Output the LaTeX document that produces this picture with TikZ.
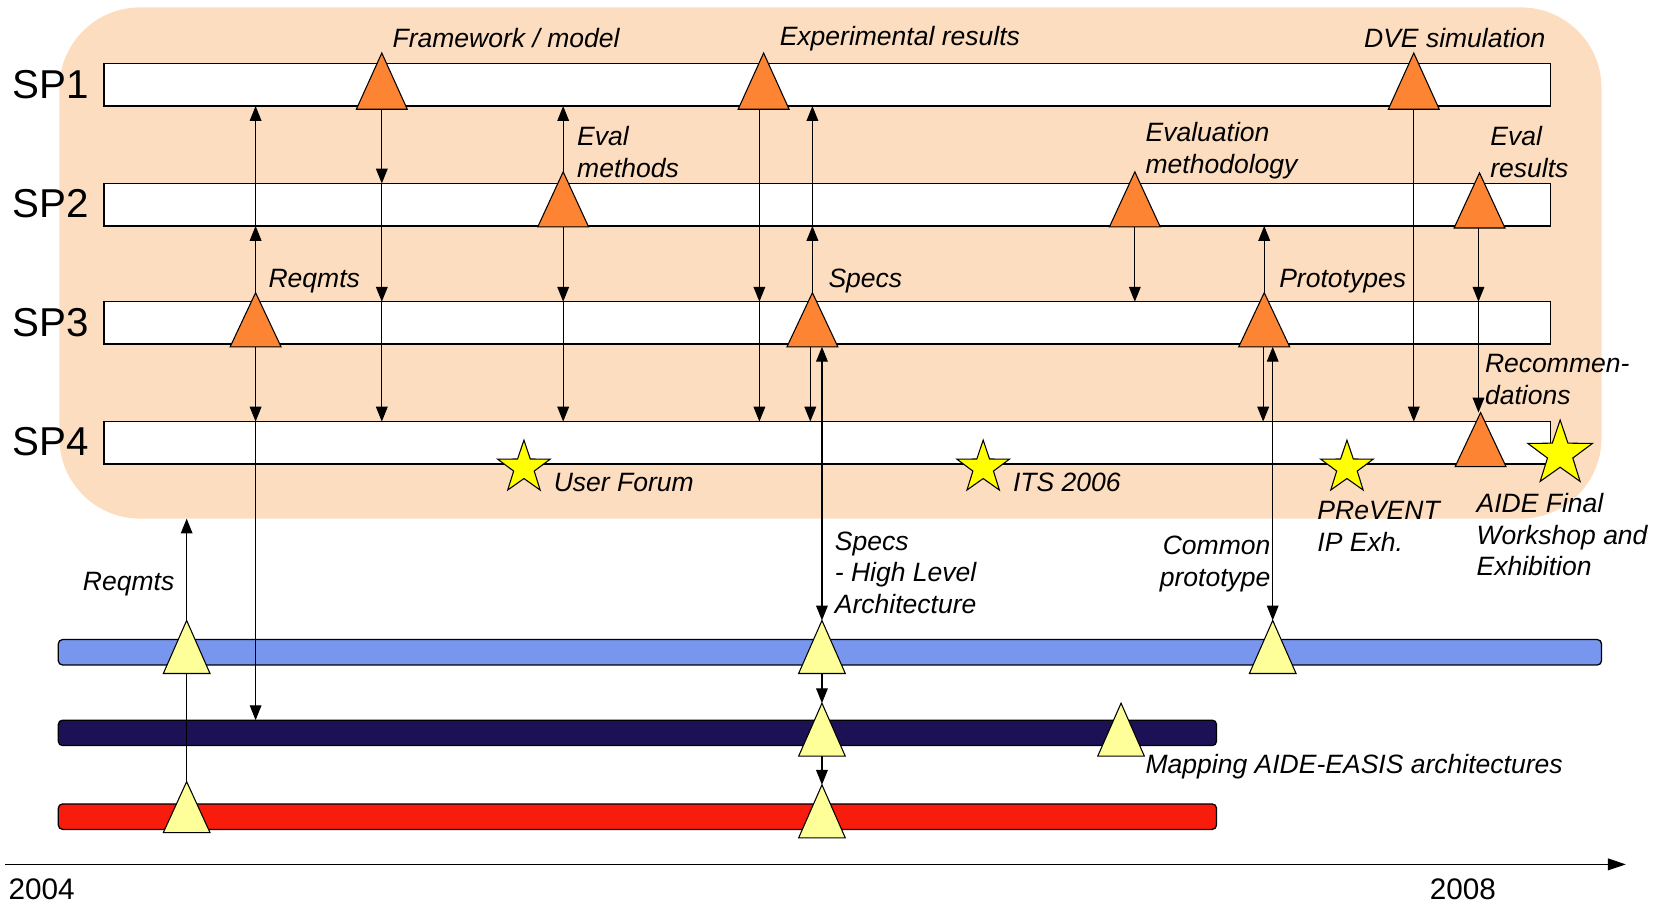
\documentclass[tikz,border=0pt]{standalone}
\usepackage{fontspec}
\setmainfont{Liberation Sans}
\usetikzlibrary{arrows.meta,shapes.geometric}
\definecolor{peach}{RGB}{253,221,192}
\definecolor{orangetri}{RGB}{253,132,50}
\definecolor{lightyel}{RGB}{255,255,153}
\definecolor{staryel}{RGB}{255,255,0}
\definecolor{barblue}{RGB}{120,150,238}
\definecolor{barnavy}{RGB}{28,17,84}
\definecolor{barred}{RGB}{247,28,12}
\newcommand\deftri[4]{\coordinate (#1-t) at (#2,#3);\coordinate (#1-b) at (#2,#4);}
\newcommand\drawtri[3]{\draw[tri,fill=#3] ([xshift=-#2pt]#1-b) -- (#1-t) -- ([xshift=#2pt]#1-b) -- cycle;}
\begin{document}
\begin{tikzpicture}[x=1pt,y=-1pt,
  spbar/.style={draw=black, line width=1.3pt, fill=white, minimum width=1364pt, minimum height=40pt, inner sep=0pt, outer sep=0pt},
  cbar/.style={draw=black, line width=1.2pt, rounded corners=4pt, minimum height=24pt, inner sep=0pt, outer sep=0pt},
  lab/.style={font=\fontsize{25}{30}\selectfont\itshape, inner sep=0pt, align=left},
  splab/.style={font=\fontsize{38}{44}\selectfont, inner sep=0pt, anchor=west},
  yearlab/.style={font=\fontsize{28}{32}\selectfont, inner sep=0pt, anchor=west},
  arr/.style={line width=1.1pt, -{Triangle[length=14pt,width=11pt]}},
  darr/.style={line width=1.1pt, {Triangle[length=14pt,width=11pt]}-{Triangle[length=14pt,width=11pt]}},
  tri/.style={draw=black, line width=1pt, line join=miter},
  ystar/.style={star, star points=5, star point ratio=2.55, draw=black, line width=1pt, fill=staryel, inner sep=0pt, minimum size=52pt}
]
\useasboundingbox (0,0) rectangle (1568,853);
% background
\node[fill=peach, rounded corners=76pt, minimum width=1454pt, minimum height=482pt, inner sep=0pt, outer sep=0pt] (bg) at (783,248) {};
% SP bars
\node[spbar] (sp1) at (780,80) {};
\node[spbar] (sp2) at (780,193) {};
\node[spbar] (sp3) at (780,304.5) {};
\node[spbar] (sp4) at (780,417.5) {};
\node[splab] (l1) at (12,80) {SP1};
\node[splab] (l2) at (12,192) {SP2};
\node[splab] (l3) at (12,304) {SP3};
\node[splab] (l4) at (12,416) {SP4};
% coloured bars
\node[cbar, fill=barblue, minimum width=1455pt] (blue) at (782.5,615) {};
\node[cbar, fill=barnavy, minimum width=1092pt] (navy) at (601,691) {};
\node[cbar, fill=barred, minimum width=1092pt] (red) at (601,770) {};
% triangle coordinates
\deftri{ofw}{360}{50}{103}
\deftri{oex}{720}{50}{103}
\deftri{odve}{1333}{50}{103}
\deftri{oem}{531}{162}{214}
\deftri{oevm}{1070}{162}{214}
\deftri{oer}{1395}{163}{215}
\deftri{oreq}{241}{276}{327}
\deftri{osp}{766}{276}{327}
\deftri{opr}{1192}{276}{327}
\deftri{orec}{1396}{389}{440}
\deftri{yba}{176}{585}{635}
\deftri{ybb}{775}{585}{635}
\deftri{ybc}{1200}{585}{635}
\deftri{yna}{775}{663}{713}
\deftri{ynb}{1057}{663}{713}
\deftri{yra}{176}{737}{785}
\deftri{yrb}{775}{740}{790}
% connectors
\draw[arr] (oreq-t) -- (oreq-t |- sp2.south);
\draw[arr] (oreq-t |- sp2.south) -- (oreq-t |- sp1.south);
\draw[arr] (oreq-b) -- (oreq-b |- sp4.north);
\draw[arr] (oreq-b |- sp4.north) -- (oreq-b |- navy.north);
\draw[arr] (ofw-b) -- (ofw-b |- sp2.north);
\draw[arr] (ofw-b |- sp2.north) -- (ofw-b |- sp3.north);
\draw[arr] (ofw-b |- sp3.north) -- (ofw-b |- sp4.north);
\draw[arr] (oem-t) -- (oem-t |- sp1.south);
\draw[arr] (oem-b) -- (oem-b |- sp3.north);
\draw[arr] (oem-b |- sp3.north) -- (oem-b |- sp4.north);
\draw[arr] ([xshift=-4pt]oex-b) -- ([xshift=-4pt]oex-b |- sp3.north);
\draw[arr] ([xshift=-4pt]oex-b |- sp3.north) -- ([xshift=-4pt]oex-b |- sp4.north);
\draw[arr] (osp-t) -- (osp-t |- sp2.south);
\draw[arr] (osp-t |- sp2.south) -- (osp-t |- sp1.south);
\draw[arr] ([xshift=-2pt]osp-b) -- ([xshift=-2pt]osp-b |- sp4.north);
\draw[darr] ([xshift=9pt]osp-b) -- (ybb-t);
\draw[arr] (ybb-b) -- (yna-t);
\draw[arr] (yna-b) -- (yrb-t);
\draw[arr] (oevm-b) -- (oevm-b |- sp3.north);
\draw[arr] (opr-t) -- (opr-t |- sp2.south);
\draw[arr] ([xshift=-1pt]opr-b) -- ([xshift=-1pt]opr-b |- sp4.north);
\draw[darr] ([xshift=8pt]opr-b) -- (ybc-t);
\draw[arr] (odve-b) -- (odve-b |- sp4.north);
\draw[arr] ([xshift=-1pt]oer-b) -- ([xshift=-1pt]oer-b |- sp3.north);
\draw[arr] ([xshift=-1pt]oer-b |- sp3.north) -- ([xshift=-2pt]orec-t);
\draw[arr] (yra-t) -- (yra-t |- bg.south);
% triangles
\drawtri{ofw}{24}{orangetri}
\drawtri{oex}{24}{orangetri}
\drawtri{odve}{24}{orangetri}
\drawtri{oem}{24}{orangetri}
\drawtri{oevm}{24}{orangetri}
\drawtri{oer}{24}{orangetri}
\drawtri{oreq}{24}{orangetri}
\drawtri{osp}{24}{orangetri}
\drawtri{opr}{24}{orangetri}
\drawtri{orec}{24}{orangetri}
\drawtri{yba}{22}{lightyel}
\drawtri{ybb}{22}{lightyel}
\drawtri{ybc}{22}{lightyel}
\drawtri{yna}{22}{lightyel}
\drawtri{ynb}{22}{lightyel}
\drawtri{yra}{22}{lightyel}
\drawtri{yrb}{22}{lightyel}
% stars
\node[ystar] (s1) at (494,441) {};
\node[ystar] (s2) at (927,441) {};
\node[ystar] (s3) at (1270,441) {};
\node[ystar, minimum size=64pt] (s4) at (1471,428) {};
% labels
\node[lab, anchor=west] (t1) at (370,36) {Framework / model};
\node[lab, anchor=west] (t2) at (735,36) {Experimental results};
\node[lab, anchor=west] (t3) at (1286,36) {DVE simulation};
\node[lab, anchor=west] (t4) at (544,143) {Eval\\methods};
\node[lab, anchor=west] (t5) at (1080,142) {Evaluation\\methodology};
\node[lab, anchor=west] (t6) at (1405,143) {Eval\\results};
\node[lab, anchor=west] (t7) at (253,265) {Reqmts};
\node[lab, anchor=west] (t8) at (781,265) {Specs};
\node[lab, anchor=west] (t9) at (1206,265) {Prototypes};
\node[lab, anchor=west] (t10) at (1400,358) {Recommen-\\dations};
\node[lab, anchor=west] (t11) at (522,455) {User Forum};
\node[lab, anchor=west] (t12) at (955,455) {ITS 2006};
\node[lab, anchor=west] (t13) at (1242,496) {PReVENT\\IP Exh.};
\node[lab, anchor=west] (t14) at (1392,504) {AIDE Final\\Workshop and\\Exhibition};
\node[lab, anchor=west] (t15) at (78,551) {Reqmts};
\node[lab, anchor=west] (t16) at (787,540) {Specs\\- High Level\\Architecture};
\node[lab, anchor=east, align=right] (t17) at (1198,532) {Common\\prototype};
\node[lab, anchor=west] (t18) at (1080,723) {Mapping AIDE-EASIS architectures};
% time axis
\coordinate (ax0) at (5,815);
\coordinate (ax1) at (1533,815);
\draw[line width=1.5pt, -{Triangle[length=17pt,width=11pt]}] (ax0) -- (ax1);
\node[yearlab] (y1) at (8,838) {2004};
\node[yearlab] (y2) at (1348,838) {2008};
\end{tikzpicture}
\end{document}
